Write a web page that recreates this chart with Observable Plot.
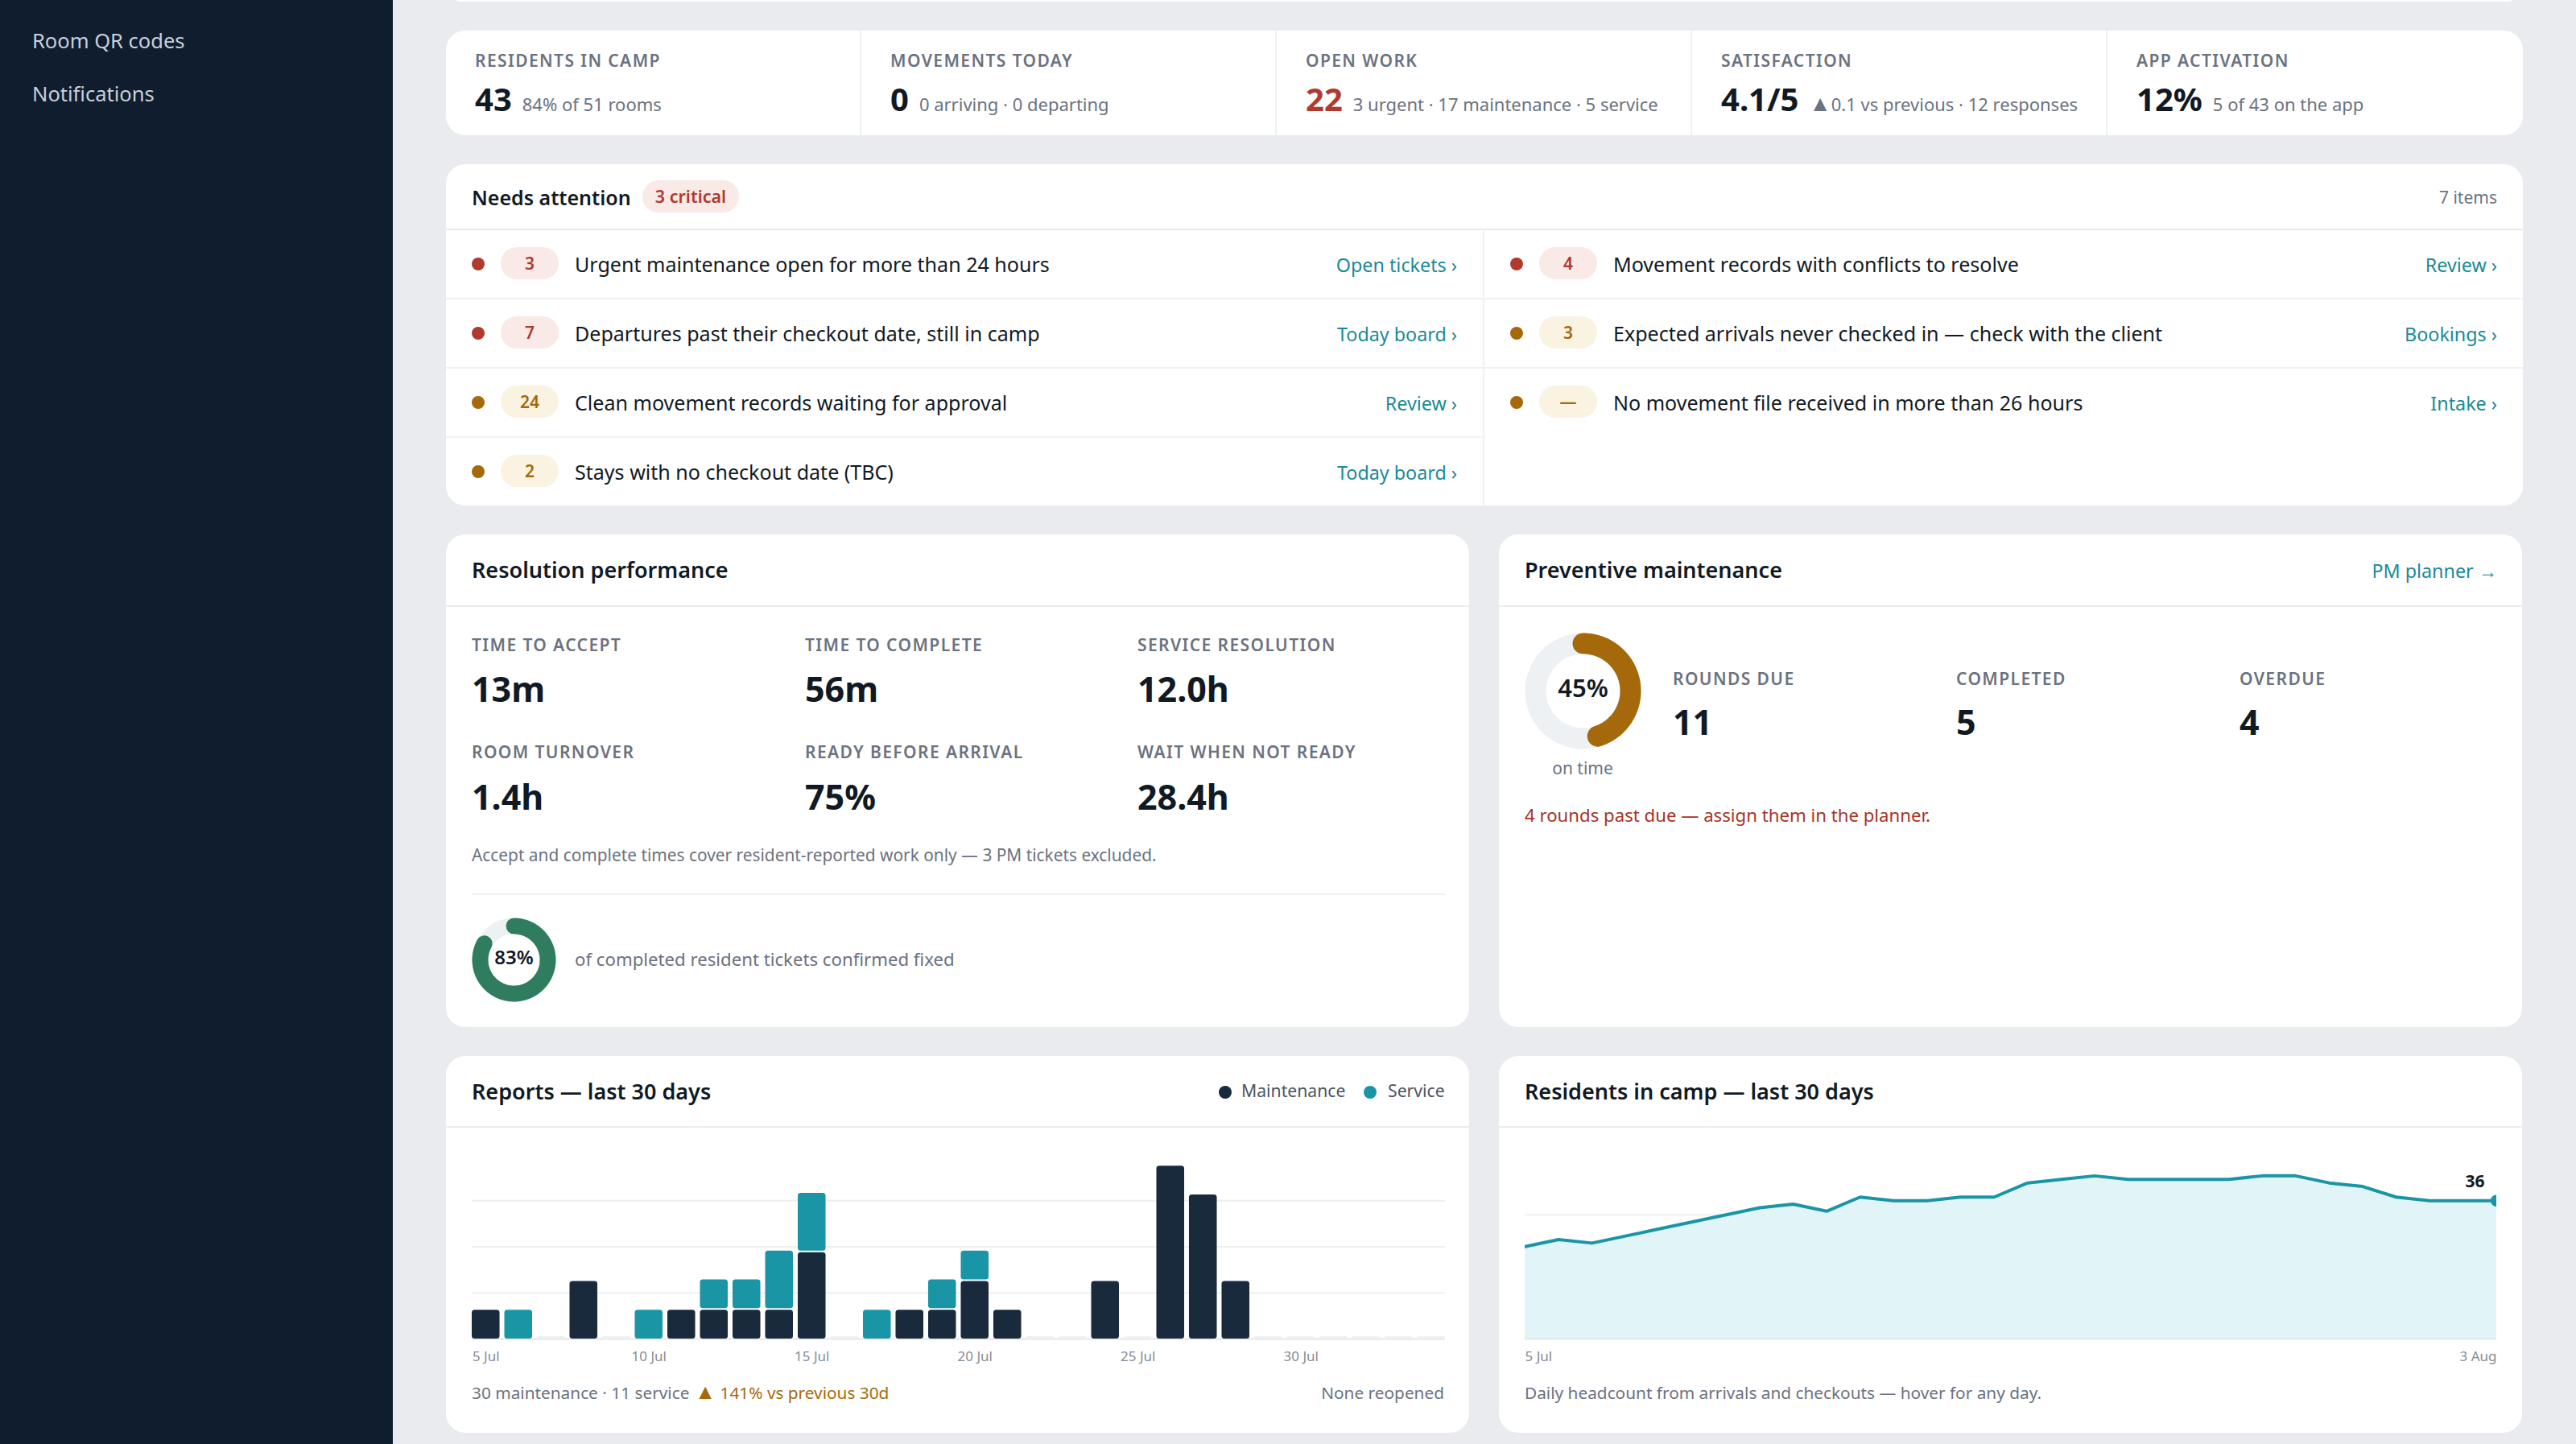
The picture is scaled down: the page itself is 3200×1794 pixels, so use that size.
<!DOCTYPE html>
<html lang="en"><head><meta charset="utf-8"><title>Camp dashboard</title>
<script src="https://cdn.jsdelivr.net/npm/d3@7"></script>
<script src="https://cdn.jsdelivr.net/npm/@observablehq/plot@0.6"></script>
<style>
*{box-sizing:border-box}
html,body{margin:0;padding:0;width:3200px;height:1794px;overflow:hidden;background:#e9ebee;font-family:"Noto Sans",sans-serif;color:#111a24}
#page{position:relative;width:3200px;height:1794px;overflow:hidden}
.side{position:absolute;left:0;top:0;width:488px;height:1794px;background:#101d2f}
.side div{position:absolute;left:40px;font-size:25.5px;line-height:34px;color:#c9d0d9}
.card{position:absolute;background:#fff;border-radius:24px;overflow:hidden}
.abs{position:absolute;white-space:nowrap}
.hline{position:absolute;left:0;right:0;height:2px;background:#e9ebee}
.title{font-size:27px;font-weight:600;line-height:36px}
.lab{font-size:21px;font-weight:600;letter-spacing:1.4px;color:#6b7280;line-height:26px}
.val{font-size:43px;font-weight:700;line-height:54px}
.sub{font-size:22px;color:#6b7280;line-height:30px}
.foot{font-size:20.8px;color:#6b7280;line-height:30px}
.link{font-size:23.3px;color:#1a8a98;line-height:32px}
.kpi{position:absolute;top:0;height:130px;width:516px;border-right:2px solid #f0f1f3}
.kpi:last-child{border-right:none}
.kv{position:absolute;left:36px;top:60px;display:flex;align-items:baseline;gap:13px;white-space:nowrap}
.kv b{font-size:40px;font-weight:700;line-height:50px}
.row{position:absolute;height:86px;border-bottom:2px solid #f0f1f3}
.dot{position:absolute;width:16px;height:16px;border-radius:50%;top:34px;left:32px}
.pill{position:absolute;left:68px;top:21px;width:72px;height:40px;border-radius:20px;font-size:21px;font-weight:600;line-height:40px;text-align:center}
.rt{position:absolute;left:160px;top:24px;font-size:25.05px;line-height:36px;white-space:nowrap}
.rl{position:absolute;right:32px;top:27px;white-space:nowrap}
.leg{position:absolute;font-size:21.2px;color:#4b5563;line-height:30px;white-space:nowrap}
.ldot{position:absolute;width:16px;height:16px;border-radius:50%}
.plotbox{position:absolute}
.plotbox svg{display:block}
.tri{font-size:1.25em;line-height:0}
</style></head><body><div id="page"></div>
<script>
const navItems = ["Room QR codes","Notifications"];

const kpiLabels = ["RESIDENTS IN CAMP","MOVEMENTS TODAY","OPEN WORK","SATISFACTION","APP ACTIVATION"];
const kpiValues = ["43","0","22","4.1/5","12%"];
const kpiNotes = ["84% of 51 rooms","0 arriving · 0 departing","3 urgent · 17 maintenance · 5 service","▲0.1 vs previous · 12 responses","5 of 43 on the app"];

const attnCounts = ["3","7","24","2","4","3","—"];
const attnLevels = ["red","red","amber","amber","red","amber","amber"];
const attnTexts = ["Urgent maintenance open for more than 24 hours","Departures past their checkout date, still in camp","Clean movement records waiting for approval","Stays with no checkout date (TBC)","Movement records with conflicts to resolve","Expected arrivals never checked in — check with the client","No movement file received in more than 26 hours"];
const attnLinks = ["Open tickets ›","Today board ›","Review ›","Today board ›","Review ›","Bookings ›","Intake ›"];

const resLabels = ["TIME TO ACCEPT","TIME TO COMPLETE","SERVICE RESOLUTION","ROOM TURNOVER","READY BEFORE ARRIVAL","WAIT WHEN NOT READY"];
const resValues = ["13m","56m","12.0h","1.4h","75%","28.4h"];
const confirmedPct = 83;

const pmLabels = ["ROUNDS DUE","COMPLETED","OVERDUE"];
const pmValues = ["11","5","4"];
const pmOnTimePct = 45;

const days = ["5 Jul","6 Jul","7 Jul","8 Jul","9 Jul","10 Jul","11 Jul","12 Jul","13 Jul","14 Jul","15 Jul","16 Jul","17 Jul","18 Jul","19 Jul","20 Jul","21 Jul","22 Jul","23 Jul","24 Jul","25 Jul","26 Jul","27 Jul","28 Jul","29 Jul","30 Jul","31 Jul","1 Aug","2 Aug","3 Aug"];
const maintenance = [1,0,0,2,0,0,1,1,1,1,3,0,0,1,1,2,1,0,0,2,0,6,5,2,0,0,0,0,0,0];
const service =     [0,1,0,0,0,1,0,1,1,2,2,0,1,0,1,1,0,0,0,0,0,0,0,0,0,0,0,0,0,0];
const reportTicks = ["5 Jul","10 Jul","15 Jul","20 Jul","25 Jul","30 Jul"];
const reportGrid = [1.6,3.2,4.8];

const headcount = [23,25,24,26,28,30,32,34,35,33,37,36,36,37,37,41,42,43,42,42,42,42,43,43,41,40,37,36,36,36];
const headcountGrid = [32];

const NAVY="#1a2a3d", TEAL="#1a95a6", RED="#b03a2e", AMBER="#a5690b", MUTED="#6b7280", INK="#111a24";

const page=document.getElementById("page");
function el(parent,cls,style,text){const e=document.createElement("div");e.className=cls;if(style)e.style.cssText=style;if(text!=null)e.textContent=text;parent.appendChild(e);return e;}
function card(l,t,w,h){return el(page,"card",`left:${l}px;top:${t}px;width:${w}px;height:${h}px`);}

// sidebar
const side=el(page,"side");
el(side,"","top:33px",navItems[0]);
el(side,"","top:99px",navItems[1]);

// sliver of card above the fold
card(554,-40,2580,42);

// KPI strip
const kc=card(554,38,2580,130);
kpiLabels.forEach((t,i)=>{
  const c=el(kc,"kpi",`left:${i*516}px`);
  el(c,"abs lab",`left:36px;top:24px`,t);
  const v=el(c,"kv");
  const b=document.createElement("b");b.textContent=kpiValues[i];if(i===2)b.style.color=RED;v.appendChild(b);
  const s=document.createElement("span");s.className="sub";
  const note=kpiNotes[i];
  if(note.startsWith("▲")){const tr=document.createElement("span");tr.className="tri";tr.textContent="▲";s.appendChild(tr);s.appendChild(document.createTextNode(note.slice(1)));}
  else s.textContent=note;
  v.appendChild(s);
});

// Needs attention
const ac=card(554,204,2580,424);
el(ac,"abs title","left:32px;top:23px;font-size:25px","Needs attention");
el(ac,"abs","left:244px;top:20px;width:120px;height:40px;border-radius:20px;background:#f9e9e7;color:"+RED+";font-size:21.5px;font-weight:600;line-height:40px;text-align:center","3 critical");
el(ac,"abs sub","right:32px;top:26px;font-size:21px","7 items");
el(ac,"hline","top:80px");
el(ac,"abs","left:1288px;top:82px;width:2px;bottom:0;background:#f0f1f3");
attnTexts.forEach((t,i)=>{
  const right=i>=4, k=right?i-4:i;
  const r=el(ac,"row",`left:${right?1290:0}px;width:${right?1290:1288}px;top:${82+k*86}px;${(i===3||i===6)?"border-bottom:none":""}`);
  const c=attnLevels[i]==="red"?RED:AMBER, bg=attnLevels[i]==="red"?"#f9e9e7":"#fbf3e2";
  el(r,"dot","background:"+c);
  el(r,"pill",`background:${bg};color:${c}`,attnCounts[i]);
  el(r,"rt","",t);
  el(r,"rl link","",attnLinks[i]);
});

// Donut drawn by Plot
function donut(pct,size,sw,color,fs){
  const r=(size-sw)/2, n=180, half=size/2;
  const arc=f=>d3.range(n+1).map(i=>{const a=2*Math.PI*f*i/n;return{x:r*Math.sin(a),y:r*Math.cos(a)};});
  return Plot.plot({width:size,height:size,margin:0,style:{background:"transparent",overflow:"visible"},
    x:{axis:null,domain:[-half,half]},y:{axis:null,domain:[-half,half]},
    marks:[
      Plot.line(arc(1),{x:"x",y:"y",stroke:"#edf1f3",strokeWidth:sw}),
      Plot.line(arc(pct/100),{x:"x",y:"y",stroke:color,strokeWidth:sw,strokeLinecap:"round"}),
      Plot.text([pct+"%"],{frameAnchor:"middle",dy:-2,text:d=>d,fontSize:fs,fontWeight:600,fill:INK,fontFamily:"Noto Sans"})
    ]});
}
function box(parent,l,t,node){const b=el(parent,"plotbox",`left:${l}px;top:${t}px`);b.appendChild(node);return b;}

// Resolution performance
const rc=card(554,664,1271,612);
el(rc,"abs title","left:32px;top:26px","Resolution performance");
el(rc,"hline","top:88px");
resLabels.forEach((t,i)=>{
  const l=[32,446,859][i%3], row=i<3?0:1;
  el(rc,"abs lab",`left:${l}px;top:${row?257:124}px`,t);
  el(rc,"abs val",`left:${l}px;top:${row?299:165}px`,resValues[i]);
});
el(rc,"abs sub","left:32px;top:383px;font-size:20.85px","Accept and complete times cover resident-reported work only — 3 PM tickets excluded.");
el(rc,"abs","left:32px;right:30px;top:446px;height:2px;background:#f0f1f3");
box(rc,32,476,donut(confirmedPct,104,20,"#2f7d5e",24));
el(rc,"abs sub","left:160px;top:513px;font-size:22.2px","of completed resident tickets confirmed fixed");

// Preventive maintenance
const pc=card(1862,664,1271,612);
el(pc,"abs title","left:32px;top:26px","Preventive maintenance");
el(pc,"abs link","right:31px;top:29px","PM planner →");
el(pc,"hline","top:88px");
box(pc,32,122,donut(pmOnTimePct,144,26,AMBER,31));
el(pc,"abs sub","left:32px;width:144px;text-align:center;top:275px;font-size:21px","on time");
pmLabels.forEach((t,i)=>{
  const l=[216,568,920][i];
  el(pc,"abs lab",`left:${l}px;top:166px`,t);
  el(pc,"abs val",`left:${l}px;top:206px`,pmValues[i]);
});
el(pc,"abs sub",`left:32px;top:334px;color:#a93226;font-size:22.2px`,"4 rounds past due — assign them in the planner.");

// Reports chart
const bc=card(554,1312,1271,468);
el(bc,"abs title","left:32px;top:26px","Reports — last 30 days");
el(bc,"hline","top:87px");
el(bc,"ldot",`left:960px;top:37px;background:${NAVY}`);
el(bc,"leg","left:988px;top:28px","Maintenance");
el(bc,"ldot",`left:1140px;top:37px;background:${TEAL}`);
el(bc,"leg","left:1170px;top:28px","Service");
const rows=days.map((day,i)=>({day,m:maintenance[i],s:service[i]}));
const reportsPlot=Plot.plot({width:1209,height:280,marginTop:14,marginBottom:37,marginLeft:0,marginRight:0,
  style:{background:"transparent",overflow:"hidden",fontFamily:"Noto Sans"},
  x:{type:"band",domain:days,paddingInner:0.147,paddingOuter:0,round:false,axis:null},
  y:{domain:[0,6.4],axis:null},
  marks:[
    Plot.ruleY(reportGrid,{stroke:"#eceef0",strokeWidth:2}),
    Plot.ruleY([0],{stroke:"#e3e5e8",strokeWidth:2}),
    Plot.barY(rows.filter(d=>d.m+d.s===0),{x:"day",y1:0,y2:0.09,fill:"#f0f1f3",rx:2}),
    Plot.barY(rows.filter(d=>d.m>0),{x:"day",y1:0,y2:"m",fill:NAVY,rx:3.5}),
    Plot.barY(rows.filter(d=>d.m>0&&d.s>0),{x:"day",y1:"m",y2:d=>d.m+d.s,fill:TEAL,rx:3.5,dy:-2}),
    Plot.barY(rows.filter(d=>d.m===0&&d.s>0),{x:"day",y1:0,y2:"s",fill:TEAL,rx:3.5}),
    Plot.axisX({ticks:reportTicks,tickSize:0,tickPadding:15,fontSize:17,color:"#858c96",label:null,stroke:"none"})
  ]});
box(bc,32,108,reportsPlot);
const rf=el(bc,"abs foot","left:32px;top:403px","30 maintenance · 11 service");
const rfa=document.createElement("span");rfa.style.cssText=`color:${AMBER};margin-left:7px`;
const rft=document.createElement("span");rft.className="tri";rft.textContent="▲";rfa.appendChild(rft);rfa.appendChild(document.createTextNode(" 141% vs previous 30d"));rf.appendChild(rfa);
el(bc,"abs foot","right:31px;top:403px","None reopened");

// Residents chart
const hc=card(1862,1312,1271,468);
el(hc,"abs title","left:32px;top:26px","Residents in camp — last 30 days");
el(hc,"hline","top:87px");
const hrows=days.map((day,i)=>({i,day,v:headcount[i]}));
const floorV=-3.1, last=hrows[hrows.length-1];
const residentsPlot=Plot.plot({width:1207,height:280,marginTop:14,marginBottom:37,marginLeft:0,marginRight:0,
  style:{background:"transparent",overflow:"hidden",fontFamily:"Noto Sans"},
  x:{domain:[0,days.length-1],axis:null},
  y:{domain:[floorV,49],axis:null},
  marks:[
    Plot.ruleY(headcountGrid,{stroke:"#eceef0",strokeWidth:2}),
    Plot.areaY(hrows,{x:"i",y1:floorV,y2:"v",fill:"#e1f4f7"}),
    Plot.ruleY([floorV],{stroke:"#e3e5e8",strokeWidth:2}),
    Plot.lineY(hrows,{x:"i",y:"v",stroke:TEAL,strokeWidth:4}),
    Plot.dot([last],{x:"i",y:"v",r:7.5,fill:TEAL}),
    Plot.text([last],{x:"i",y:"v",text:d=>String(d.v),dx:-27,dy:-23,fontSize:21,fontWeight:700,fill:INK,fontFamily:"Noto Sans"}),
    Plot.text([hrows[0]],{x:"i",y:floorV,text:"day",textAnchor:"start",lineAnchor:"top",dy:15,fontSize:17,fill:"#858c96",fontFamily:"Noto Sans"}),
    Plot.text([last],{x:"i",y:floorV,text:"day",textAnchor:"end",lineAnchor:"top",dy:15,fontSize:17,fill:"#858c96",fontFamily:"Noto Sans"})
  ]});
box(hc,32,108,residentsPlot);
el(hc,"abs foot","left:32px;top:403px","Daily headcount from arrivals and checkouts — hover for any day.");
</script></body></html>
